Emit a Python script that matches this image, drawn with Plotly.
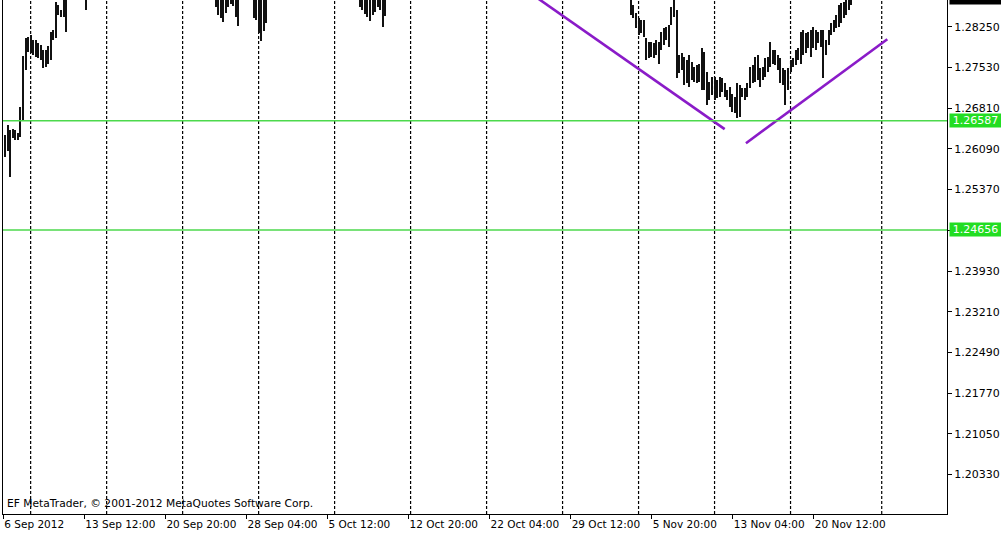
import plotly.graph_objects as go

# ---- data (H4 bars, EURUSD; index = bar number from 6 Sep 2012) ----
bar_index = (list(range(0, 25)) + [32] + list(range(83, 93)) + list(range(98, 104))
             + list(range(140, 151)) + list(range(247, 335)))

bar_high = [
    # 0..24
    1.2633, 1.2651, 1.2642, 1.2645, 1.2642, 1.2638, 1.2684, 1.2773, 1.2805, 1.2807,
    1.2810, 1.2801, 1.2801, 1.2796, 1.2792, 1.2784, 1.2784, 1.2791, 1.2815, 1.2819,
    1.2868, 1.2863, 1.2854, 1.2878, 1.2886,
    # 32
    1.2905,
    # 83..92
    1.2935, 1.2928, 1.2920, 1.2912, 1.2918, 1.2925, 1.2930, 1.2927, 1.2915, 1.2905,
    # 98..103
    1.2900, 1.2895, 1.2880, 1.2878, 1.2890, 1.2898,
    # 140..150
    1.2920, 1.2915, 1.2910, 1.2905, 1.2898, 1.2905, 1.2912, 1.2918, 1.2910, 1.2900, 1.2908,
    # 247..334
    1.2885, 1.2863, 1.2849, 1.2840, 1.2837, 1.2837, 1.2805, 1.2798, 1.2798, 1.2796,
    1.2801, 1.2798, 1.2815, 1.2822, 1.2824, 1.2828, 1.2860, 1.2895, 1.2854, 1.2775,
    1.2778, 1.2771, 1.2766, 1.2775, 1.2762, 1.2753, 1.2757, 1.2760, 1.2787, 1.2780,
    1.2745, 1.2727, 1.2736, 1.2736, 1.2730, 1.2736, 1.2734, 1.2725, 1.2713, 1.2718,
    1.2707, 1.2700, 1.2725, 1.2722, 1.2716, 1.2716, 1.2725, 1.2753, 1.2757, 1.2771,
    1.2775, 1.2752, 1.2753, 1.2769, 1.2771, 1.2798, 1.2784, 1.2784, 1.2775, 1.2769,
    1.2752, 1.2748, 1.2752, 1.2766, 1.2769, 1.2784, 1.2787, 1.2815, 1.2819, 1.2814,
    1.2815, 1.2819, 1.2824, 1.2819, 1.2815, 1.2819, 1.2819, 1.2801, 1.2819, 1.2831,
    1.2837, 1.2845, 1.2863, 1.2867, 1.2868, 1.2878, 1.2885, 1.2888,
]

bar_low = [
    # 0..24
    1.2594, 1.2606, 1.2559, 1.2628, 1.2624, 1.2624, 1.2630, 1.2660, 1.2748, 1.2780,
    1.2778, 1.2775, 1.2771, 1.2769, 1.2766, 1.2752, 1.2753, 1.2759, 1.2766, 1.2801,
    1.2805, 1.2845, 1.2842, 1.2842, 1.2815,
    # 32
    1.2854,
    # 83..92
    1.2860, 1.2845, 1.2840, 1.2833, 1.2849, 1.2860, 1.2865, 1.2861, 1.2842, 1.2826,
    # 98..103
    1.2840, 1.2837, 1.2814, 1.2799, 1.2817, 1.2831,
    # 140..150
    1.2860, 1.2854, 1.2847, 1.2842, 1.2835, 1.2845, 1.2851, 1.2860, 1.2854, 1.2824, 1.2844,
    # 247..334
    1.2845, 1.2840, 1.2822, 1.2810, 1.2814, 1.2807, 1.2766, 1.2769, 1.2771, 1.2769,
    1.2775, 1.2760, 1.2784, 1.2792, 1.2801, 1.2789, 1.2828, 1.2842, 1.2734, 1.2743,
    1.2748, 1.2722, 1.2725, 1.2718, 1.2730, 1.2727, 1.2725, 1.2727, 1.2713, 1.2713,
    1.2686, 1.2695, 1.2704, 1.2695, 1.2699, 1.2700, 1.2709, 1.2700, 1.2695, 1.2683,
    1.2674, 1.2672, 1.2663, 1.2665, 1.2700, 1.2695, 1.2700, 1.2716, 1.2725, 1.2727,
    1.2730, 1.2718, 1.2730, 1.2736, 1.2745, 1.2753, 1.2760, 1.2757, 1.2748, 1.2725,
    1.2722, 1.2686, 1.2713, 1.2745, 1.2753, 1.2757, 1.2766, 1.2760, 1.2775, 1.2778,
    1.2787, 1.2771, 1.2787, 1.2784, 1.2796, 1.2789, 1.2734, 1.2775, 1.2792, 1.2810,
    1.2815, 1.2822, 1.2824, 1.2831, 1.2840, 1.2845, 1.2854, 1.2863,
]

tick_index = [-0.8, 31.2, 63.2, 95.2, 127.2, 159.2, 191.2, 223.2, 255.2, 287.2, 319.2]
tick_labels = ["6 Sep 2012", "13 Sep 12:00", "20 Sep 20:00", "28 Sep 04:00", "5 Oct 12:00",
               "12 Oct 20:00", "22 Oct 04:00", "29 Oct 12:00", "5 Nov 20:00",
               "13 Nov 04:00", "20 Nov 12:00"]

price_ticks = [1.28250, 1.27530, 1.26810, 1.26090, 1.25370, 1.24650,
               1.23930, 1.23210, 1.22490, 1.21770, 1.21050, 1.20330]

week_separators = [10, 40, 70, 100, 130, 160, 190, 220, 250, 280, 310, 346]

hlines = [1.26587, 1.24656]
bid_price = "1.29754"

trend1_x = [210, 284]
trend1_y = [1.2876, 1.2644]
trend2_x = [292.4, 348.2]
trend2_y = [1.26191, 1.28029]

copyright_text = "EF MetaTrader, © 2001-2012 MetaQuotes Software Corp."

FONT = "DejaVu Sans"

fig = go.Figure()

fig.add_trace(go.Bar(
    x=bar_index,
    y=[h - l for h, l in zip(bar_high, bar_low)],
    base=bar_low,
    width=0.42,
    marker=dict(color="#111111", line=dict(width=0)),
    hoverinfo="skip",
))

for tx, ty in [(trend1_x, trend1_y), (trend2_x, trend2_y)]:
    fig.add_trace(go.Scatter(x=tx, y=ty, mode="lines",
                             line=dict(color="#8A1BC8", width=2.6), hoverinfo="skip"))

shapes = []
for s in week_separators:
    shapes.append(dict(type="line", xref="x", yref="paper", x0=s, x1=s, y0=0, y1=1,
                       line=dict(color="black", width=1.2, dash="3px,2px"), layer="below"))
for h in hlines:
    shapes.append(dict(type="line", xref="paper", yref="y", x0=0, x1=1, y0=h, y1=h,
                       line=dict(color="#4CD94C", width=1.5)))

annotations = []
for h in hlines:
    annotations.append(dict(xref="paper", yref="y", x=1, y=h, xanchor="left", yanchor="middle",
                            xshift=2, text=f"{h:.5f}", showarrow=False, bgcolor="#22DD22",
                            font=dict(family=FONT, size=11, color="white"),
                            width=51, borderpad=0))
annotations.append(dict(xref="paper", yref="paper", x=1, y=1, xanchor="left", yanchor="bottom",
                        xshift=2, yshift=-5, text=bid_price, showarrow=False, bgcolor="black",
                        font=dict(family=FONT, size=11, color="white"), width=51, borderpad=1))
annotations.append(dict(xref="paper", yref="paper", x=0, y=0, xanchor="left", yanchor="bottom",
                        xshift=2, yshift=2, text=copyright_text, showarrow=False,
                        font=dict(family=FONT, size=10.7, color="black")))

fig.update_layout(
    width=1001, height=538,
    margin=dict(l=3, r=54, t=0, b=24),
    paper_bgcolor="white", plot_bgcolor="white",
    showlegend=False, bargap=0,
    font=dict(family=FONT, size=10.5, color="black"),
    shapes=shapes, annotations=annotations,
)
fig.update_xaxes(range=[-0.91, 371.77], tickvals=tick_index, ticktext=tick_labels,
                 ticks="outside", ticklen=4, tickcolor="black", showline=True,
                 linecolor="black", linewidth=1, showgrid=False, zeroline=False,
                 ticklabelposition="outside right", tickangle=0,
                 tickfont=dict(family=FONT, size=10.5, color="black"))
fig.update_yaxes(side="right", range=[1.196323, 1.287237], tickvals=price_ticks,
                 tickformat=".5f", ticks="outside", ticklen=4, tickcolor="black",
                 showline=True, mirror=True, linecolor="black", linewidth=1,
                 showgrid=False, zeroline=False,
                 tickfont=dict(family=FONT, size=11, color="black"))

fig.write_html("out.html", config={"displayModeBar": False},
               post_script="document.body.style.margin='0';")
